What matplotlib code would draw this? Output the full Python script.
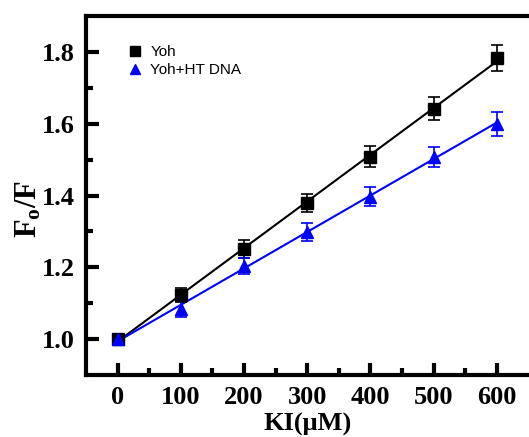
import matplotlib
matplotlib.use("Agg")
import matplotlib.pyplot as plt
import numpy as np
from matplotlib.ticker import MultipleLocator, FixedLocator

plt.rcParams['mathtext.fontset'] = 'custom'
plt.rcParams['mathtext.rm'] = 'Liberation Serif'
plt.rcParams['mathtext.bf'] = 'Liberation Serif:bold'

ki = [0, 100, 200, 300, 400, 500, 600]
yoh = [1.0, 1.123, 1.251, 1.379, 1.508, 1.641, 1.783]
yoh_err = [0.015, 0.02, 0.024, 0.026, 0.03, 0.032, 0.035]
yoh_dna = [1.0, 1.083, 1.203, 1.299, 1.397, 1.508, 1.600]
yoh_dna_err = [0.015, 0.022, 0.022, 0.025, 0.027, 0.028, 0.033]

W, H = 529, 437
fig = plt.figure(figsize=(W/100, H/100), dpi=100)
left, right, top, bottom = 86, 528.5, 16, 375
ax = fig.add_axes([left/W, (H-bottom)/H, (right-left)/W, (bottom-top)/H])

x = np.array(ki)
for y, err, color, marker, ms, label in [
    (yoh, yoh_err, 'black', 's', 8, 'Yoh'),
    (yoh_dna, yoh_dna_err, '#0000ff', '^', 9, 'Yoh+HT DNA'),
]:
    y = np.array(y)
    p = np.polyfit(x, y, 1)
    ax.plot(x, np.polyval(p, x), color=color, lw=1.5, zorder=2)
    ax.errorbar(x, y, yerr=err, fmt=marker, color=color, ms=ms, capsize=4,
                elinewidth=1.2, capthick=1.2, zorder=3)
    ax.plot([], [], marker, color=color, ms=ms*0.85, label=label)

ax.set_xlim(-50, 650)
ax.set_ylim(0.9, 1.9)
ax.set_xticks(ki)
ax.set_xticklabels([str(v) for v in ki])
ax.xaxis.set_minor_locator(FixedLocator([50, 150, 250, 350, 450, 550]))
ax.set_yticks([1.0, 1.2, 1.4, 1.6, 1.8])
ax.set_yticklabels(['1.0', '1.2', '1.4', '1.6', '1.8'])
ax.yaxis.set_minor_locator(FixedLocator([1.1, 1.3, 1.5, 1.7]))

for s in ax.spines.values():
    s.set_linewidth(3)
ax.spines['right'].set_visible(False)
ax.tick_params(which='major', direction='in', length=9, width=3, pad=8)
ax.tick_params(which='minor', direction='in', length=5, width=3)
ax.tick_params(top=False, right=False, which='both')
for lab in ax.get_xticklabels() + ax.get_yticklabels():
    lab.set_fontfamily('Liberation Serif')
    lab.set_fontweight('bold')
    lab.set_fontsize(19)

ax.set_xlabel('KI(μM)', fontfamily='Liberation Serif', fontweight='bold',
              fontsize=19, labelpad=3)
fig.text(28/W, 1 - 209/H, r'$\mathbf{F_o/F}$', fontsize=22, rotation=90,
         ha='center', va='center')

leg = ax.legend(loc='upper left', frameon=False, prop={'family': 'Liberation Sans', 'size': 11},
                handlelength=1.0, handletextpad=0.5, borderaxespad=0.0,
                bbox_to_anchor=(0.08, 0.935), labelspacing=0.25, numpoints=1)

fig.savefig('out.png', dpi=100)
